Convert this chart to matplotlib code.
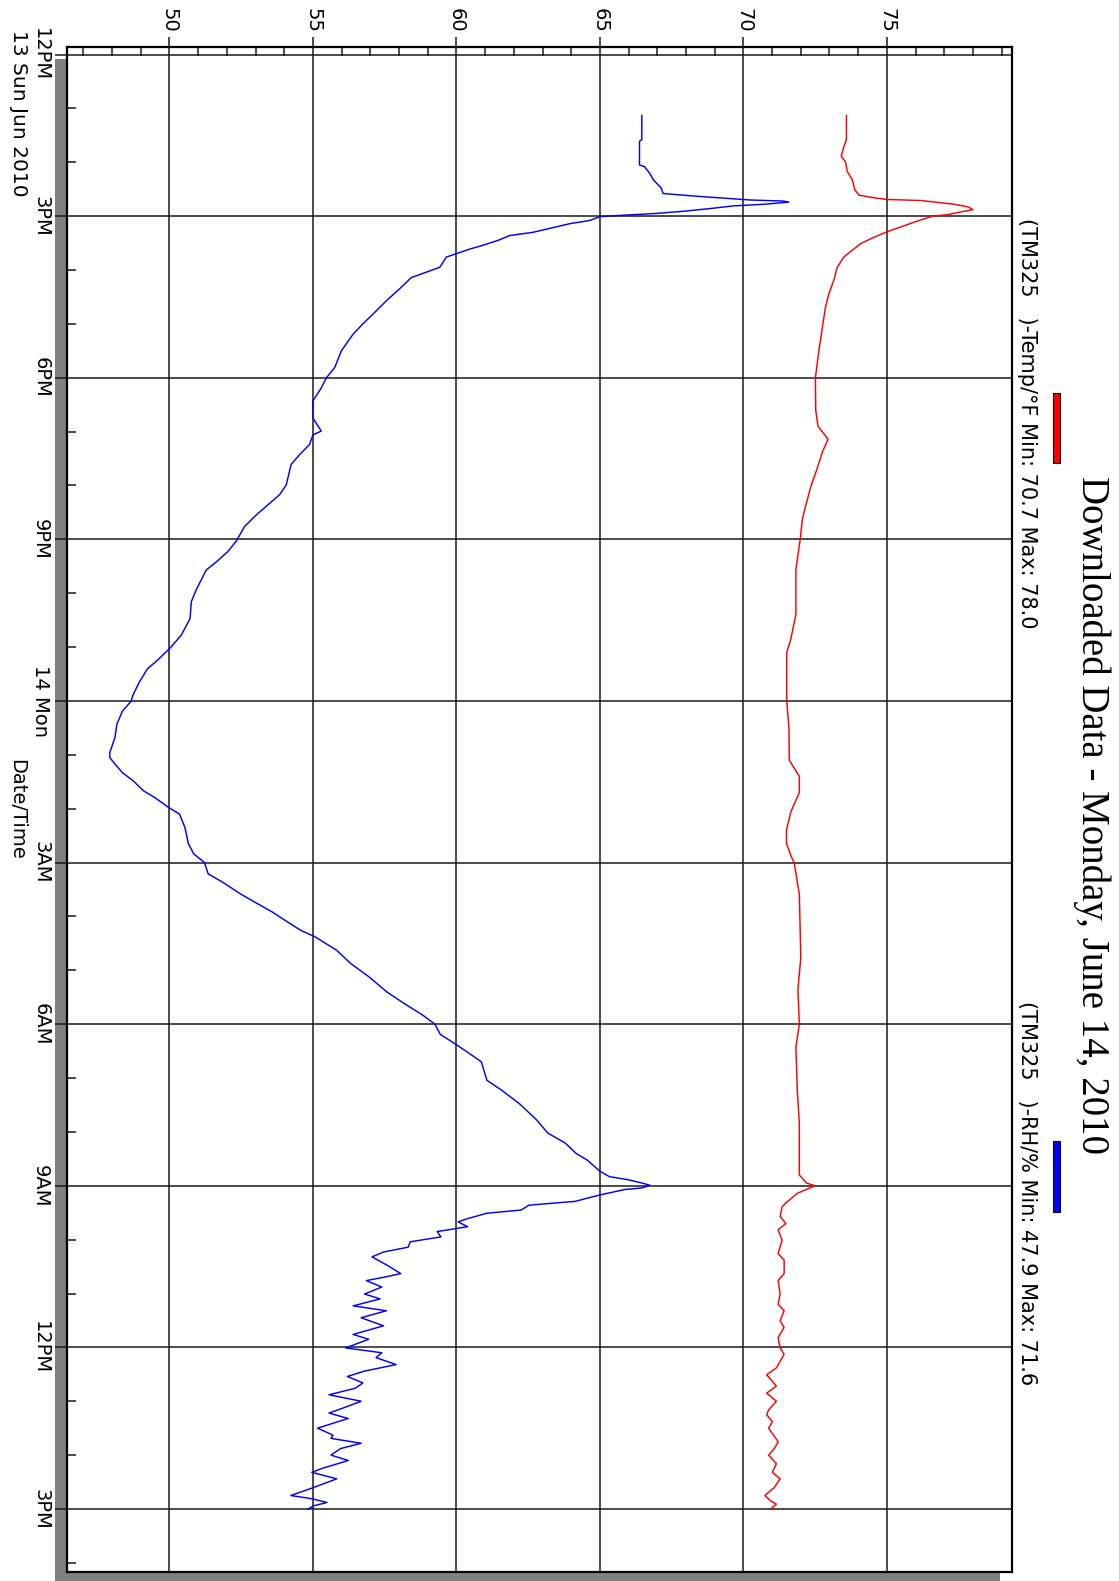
import matplotlib
matplotlib.use('Agg')
import matplotlib.pyplot as plt
from matplotlib.patches import Rectangle

# hours after 12PM Sun 13 Jun 2010
rh_hours = [1.13, 1.58, 1.61, 2.05, 2.08, 2.2, 2.33, 2.48, 2.58, 2.63, 2.67, 2.7, 2.72, 2.74,
            2.78, 2.81, 2.86, 2.91, 2.95, 2.98, 3.01, 3.08, 3.14, 3.3, 3.36, 3.45, 3.55, 3.61,
            3.76, 3.95, 4.14, 4.35, 4.57, 4.82, 5.0, 5.19, 5.5, 5.81, 6.0, 6.19, 6.43, 6.75,
            6.99, 7.06, 7.24, 7.43, 7.61, 7.99, 8.17, 8.36, 8.55, 8.76, 9.03, 9.23, 9.42, 9.57,
            9.94, 10.16, 10.47, 10.78, 11.03, 11.24, 11.4, 11.65, 11.9, 12.0, 12.19, 12.43,
            12.68, 12.96, 13.05, 13.17, 13.33, 13.48, 13.67, 13.79, 13.98, 14.1, 14.35, 14.65,
            14.84, 15.0, 15.21, 15.36, 15.58, 15.77, 15.92, 16.07, 16.26, 16.38, 16.63, 16.88,
            17.12, 17.4, 17.62, 17.83, 18.0, 18.19, 18.36, 18.54, 18.7, 19.04, 19.22, 19.47,
            19.78, 20.02, 20.21, 20.4, 20.52, 20.73, 20.83, 20.89, 20.95, 20.99, 21.04, 21.07,
            21.17, 21.29, 21.36, 21.45, 21.51, 21.61, 21.67, 21.76, 21.85, 21.95, 22.04, 22.14,
            22.23, 22.32, 22.48, 22.63, 22.7, 22.76, 22.88, 23.01, 23.1, 23.23, 23.32, 23.45,
            23.6, 23.76, 23.85, 24.01, 24.1, 24.19, 24.32, 24.44, 24.54, 24.66, 24.76, 24.88,
            25.0, 25.13, 25.22, 25.32, 25.5, 25.63, 25.69, 25.78, 25.88, 26.0, 26.1, 26.25,
            26.32, 26.44, 26.6, 26.75, 26.81, 26.88, 26.94, 27.0]
rh_values = [66.46, 66.46, 66.38, 66.38, 66.55, 66.73, 66.87, 67.14, 67.2, 68.36, 69.42, 70.23,
             71.4, 71.58, 70.7, 69.65, 68.83, 67.9, 66.96, 65.91, 65.0, 64.65, 63.95, 62.67,
             61.86, 61.45, 60.87, 60.47, 59.65, 59.42, 58.43, 58.02, 57.56, 57.09, 56.74, 56.4,
             55.99, 55.76, 55.47, 55.29, 55.0, 55.0, 55.29, 55.0, 54.88, 54.53, 54.24, 54.07,
             53.84, 53.43, 53.02, 52.62, 52.33, 52.03, 51.63, 51.28, 50.93, 50.76, 50.72, 50.41,
             50.0, 49.59, 49.24, 48.95, 48.72, 48.67, 48.36, 48.17, 48.1, 47.92, 47.92, 48.1,
             48.36, 48.73, 49.1, 49.48, 49.98, 50.35, 50.54, 50.66, 50.85, 51.22, 51.35, 51.84,
             52.47, 53.09, 53.59, 54.02, 54.58, 55.08, 55.83, 56.33, 56.95, 57.57, 58.19, 58.82,
             59.25, 59.44, 59.94, 60.44, 60.87, 61.06, 61.56, 62.18, 62.8, 63.18, 63.8, 64.17,
             64.55, 65.0, 65.33, 66.0, 66.47, 66.74, 66.47, 65.87, 65.0, 64.13, 62.53, 62.26,
             61.06, 60.39, 60.06, 60.39, 59.33, 59.46, 58.39, 58.32, 57.46, 57.06, 57.6, 58.06,
             57.46, 56.86, 57.4, 56.8, 57.34, 56.4, 57.56, 56.68, 57.46, 56.4, 56.94, 56.14,
             57.4, 57.2, 57.9, 56.8, 56.2, 56.74, 56.47, 55.56, 56.68, 56.03, 55.56, 56.23,
             55.16, 55.7, 55.63, 56.68, 55.96, 55.63, 56.23, 55.3, 54.96, 55.83, 55.03, 54.23,
             54.96, 55.49, 55.03, 54.83]

temp_hours = [1.13, 1.58, 1.71, 1.89, 1.99, 2.17, 2.33, 2.51, 2.61, 2.65, 2.69, 2.71, 2.78, 2.83,
              2.88, 2.92, 2.97, 3.01, 3.11, 3.2, 3.29, 3.39, 3.51, 3.63, 3.76, 3.95, 4.19, 4.44,
              4.69, 5.07, 5.5, 6.0, 6.6, 6.9, 7.14, 7.37, 7.67, 8.02, 8.38, 8.61, 9.0, 9.56,
              10.39, 10.86, 11.1, 12.0, 12.52, 13.1, 13.4, 13.7, 14.05, 14.4, 14.64, 14.88, 15.0,
              15.59, 16.77, 17.36, 18.0, 18.43, 19.25, 19.84, 20.8, 20.95, 21.0, 21.14, 21.32,
              21.39, 21.57, 21.7, 21.82, 22.01, 22.26, 22.38, 22.63, 22.76, 23.01, 23.2, 23.32,
              23.51, 23.63, 23.82, 24.01, 24.13, 24.38, 24.51, 24.63, 24.72, 24.85, 25.0, 25.16,
              25.25, 25.38, 25.5, 25.75, 25.88, 26.0, 26.16, 26.32, 26.44, 26.6, 26.75, 26.85,
              26.91, 27.0]
temp_values = [73.59, 73.59, 73.5, 73.41, 73.56, 73.62, 73.8, 73.88, 74.03, 74.44, 74.97, 76.19,
               77.36, 77.83, 78.0, 77.6, 77.13, 76.54, 75.96, 75.49, 75.0, 74.56, 74.09, 73.8,
               73.5, 73.27, 73.15, 72.98, 72.86, 72.75, 72.63, 72.51, 72.52, 72.6, 72.95, 72.76,
               72.58, 72.35, 72.17, 72.06, 71.98, 71.83, 71.83, 71.65, 71.51, 71.51, 71.59, 71.6,
               71.95, 71.95, 71.66, 71.5, 71.5, 71.66, 71.77, 71.95, 72.0, 71.9, 71.95, 71.83,
               71.88, 71.95, 71.95, 72.2, 72.5, 71.88, 71.48, 71.35, 71.28, 71.48, 71.21, 71.35,
               71.21, 71.42, 71.42, 71.21, 71.28, 71.21, 71.42, 71.28, 71.42, 71.21, 71.28, 71.42,
               71.15, 70.81, 71.01, 71.15, 70.81, 71.15, 70.88, 70.81, 71.01, 70.88, 71.21, 71.08,
               70.88, 71.15, 71.01, 71.28, 71.08, 70.75, 70.95, 71.15, 70.95]

time_ticks = [0, 3, 6, 9, 12, 15, 18, 21, 24, 27]
time_labels = ['12PM', '3PM', '6PM', '9PM', '14 Mon', '3AM', '6AM', '9AM', '12PM', '3PM']
value_ticks = [50, 55, 60, 65, 70, 75]

title = 'Downloaded Data - Monday, June 14, 2010'
temp_legend = '(TM325   )-Temp/°F Min: 70.7 Max: 78.0'
rh_legend = '(TM325   )-RH/% Min: 47.9 Max: 71.6'

W, H = 1119, 1581
fig = plt.figure(figsize=(W / 100, H / 100), dpi=100)
fig.patch.set_facecolor('white')


def fx(px):
    return px / W


def fy(py):
    return 1 - py / H


# frame in pixels: left 67, right 1012, top 47, bottom 1572
ax = fig.add_axes([fx(67), fy(1572), fx(1012) - fx(67), fy(47) - fy(1572)])
ax.set_facecolor('white')

# drop shadow
fig.patches.append(Rectangle((fx(55), fy(1584)), fx(1012) - fx(67), fy(47) - fy(1572),
                             transform=fig.transFigure, facecolor='#808080',
                             edgecolor='none', zorder=-5))

ax.plot(rh_values, rh_hours, color='#0000ff', lw=1.05)
ax.plot(temp_values, temp_hours, color='#ff0000', lw=1.05)

ax.set_xlim(46.43, 79.36)
ax.set_ylim(28.17, -0.14)

ax.set_xticks(value_ticks)
ax.set_xticks(range(47, 80), minor=True)
ax.set_yticks(time_ticks, labels=time_labels)
ax.set_yticks(range(0, 29), minor=True)

ax.set_axisbelow(True)
ax.grid(which='major', color='#1a1a1a', linewidth=1.1)

ax.tick_params(axis='x', which='major', direction='out', length=7.2, width=1.1,
               top=True, bottom=False, labeltop=True, labelbottom=False,
               labelrotation=-90, pad=3, labelsize=14, color='#1a1a1a')
ax.tick_params(axis='x', which='minor', direction='in', length=6.8, width=1.1,
               top=True, bottom=False, color='#1a1a1a')
ax.tick_params(axis='y', which='major', direction='out', length=8.6, width=1.1,
               labelrotation=-90, pad=3.5, labelsize=14, color='#1a1a1a')
ax.tick_params(axis='y', which='minor', direction='in', length=6.5, width=1.1,
               color='#1a1a1a')
plt.setp(ax.get_yticklabels(), va='center')

for s in ax.spines.values():
    s.set_linewidth(1.6)
    s.set_color('black')

fig.text(fx(18), fy(30), '13 Sun Jun 2010', rotation=-90, ha='center', va='top', fontsize=14.5)
fig.text(fx(17), fy(809), 'Date/Time', rotation=-90, ha='center', va='center', fontsize=14)

fig.text(fx(1092), fy(815), title, rotation=-90, ha='center', va='center',
         family='Liberation Serif', fontsize=28)

# legend
fig.patches.append(Rectangle((fx(1053), fy(463)), fx(1060) - fx(1053), fy(393) - fy(463),
                             transform=fig.transFigure, facecolor='#ff0000',
                             edgecolor='black', lw=0.8))
fig.patches.append(Rectangle((fx(1053), fy(1212)), fx(1060) - fx(1053), fy(1141) - fy(1212),
                             transform=fig.transFigure, facecolor='#0000ff',
                             edgecolor='black', lw=0.8))
fig.text(fx(1027), fy(218), temp_legend, rotation=-90, ha='center', va='top', fontsize=15)
fig.text(fx(1027), fy(1001), rh_legend, rotation=-90, ha='center', va='top', fontsize=15)

fig.savefig('out.png', dpi=100, facecolor='white')
